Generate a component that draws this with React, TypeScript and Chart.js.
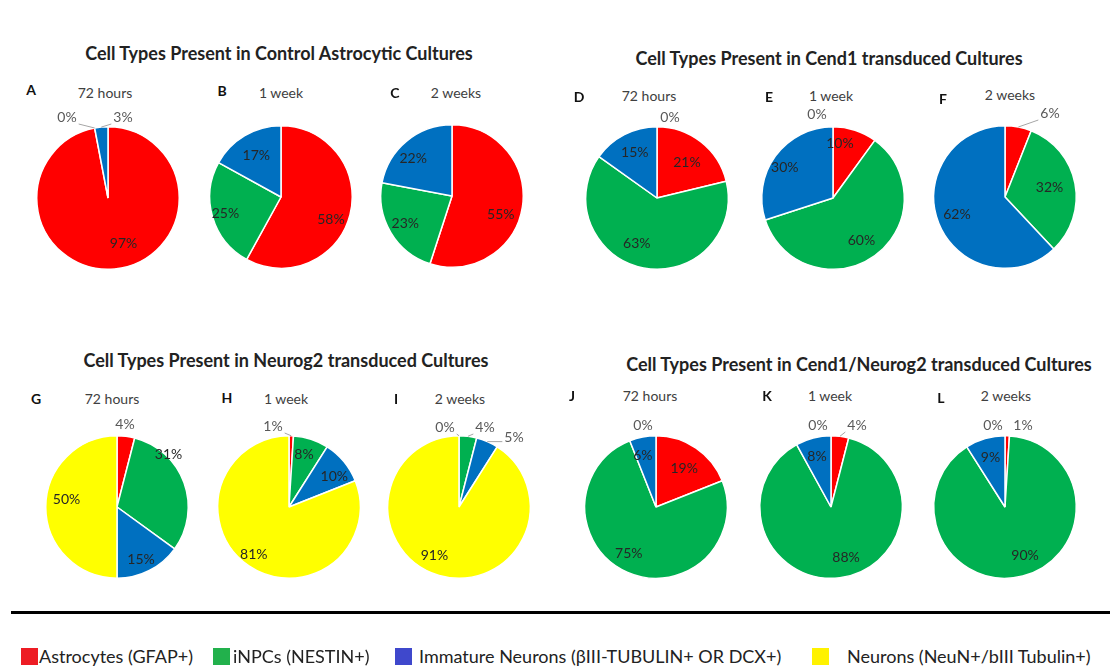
import React, { useEffect, useRef } from "react";
import { Chart, PieController, ArcElement } from "chart.js";

Chart.register(PieController, ArcElement);

// ---- data -------------------------------------------------------------
const cellTypes = [
  "Astrocytes (GFAP+)",
  "iNPCs (NESTIN+)",
  "Immature Neurons (βIII-TUBULIN+ OR DCX+)",
  "Neurons (NeuN+/bIII Tubulin+)",
];
const timepoints = ["72 hours", "1 week", "2 weeks"];
const groupTitles = [
  "Cell Types Present in Control Astrocytic Cultures",
  "Cell Types Present in Cend1 transduced Cultures",
  "Cell Types Present in Neurog2 transduced Cultures",
  "Cell Types Present in Cend1/Neurog2 transduced Cultures",
];
const panelLetters = ["A", "B", "C", "D", "E", "F", "G", "H", "I", "J", "K", "L"];

// % of cells per type: astrocytes, iNPCs, immature neurons, neurons
const controlAstrocytic = [
  [97, 0, 3],
  [58, 25, 17],
  [55, 23, 22],
];
const cend1Transduced = [
  [21, 63, 15, 0],
  [10, 60, 30, 0],
  [6, 32, 62],
];
const neurog2Transduced = [
  [4, 31, 15, 50],
  [1, 8, 10, 81],
  [0, 4, 5, 91],
];
const cend1Neurog2Transduced = [
  [19, 75, 6, 0],
  [4, 88, 8, 0],
  [1, 90, 9, 0],
];

// ---- styling / layout ---------------------------------------------------
const sliceColors = ["#FF0000", "#00B050", "#0070C0", "#FFFF00"];
const keyColors = ["#ED1C24", "#22B14C", "#3F48CC", "#FFF200"];
const FONT = "Lato, 'Open Sans', sans-serif";
const LABEL_FONT = "14px Lato";
const CANVAS = 200;

type Frame = {
  cx: number;
  cy: number;
  letter: [number, number];
  sub: [number, number];
  outside?: Record<number, [number, number, boolean]>;
  nudge?: Record<number, [number, number]>;
};

const frames: Frame[] = [
  { cx: 108, cy: 198, letter: [31, 90], sub: [105, 93], outside: { 1: [-41, -81, true], 2: [15, -81, true] }, nudge: { 0: [11, -3] } },
  { cx: 281, cy: 197, letter: [222, 91], sub: [281, 93], nudge: { 0: [3, 10], 1: [-9, 3], 2: [0, 0] } },
  { cx: 452, cy: 196, letter: [395, 93], sub: [456, 93], nudge: { 0: [1, 11], 1: [-5, 3], 2: [-8, 0] } },
  { cx: 657, cy: 198, letter: [579, 97], sub: [649, 96], outside: { 3: [13, -81, false] }, nudge: { 0: [0, 3], 1: [-11, -2], 2: [0, -2] } },
  { cx: 833, cy: 198, letter: [769, 97], sub: [831, 96], outside: { 3: [-16, -84, false] }, nudge: { 0: [-8, -8], 1: [0, 3], 2: [-9, -2] } },
  { cx: 1005, cy: 197, letter: [943, 99], sub: [1010, 95], outside: { 0: [45, -84, true] }, nudge: { 1: [-3, 0], 2: [-3, 0] } },
  { cx: 117, cy: 507, letter: [36, 399], sub: [112, 399], outside: { 0: [8, -83, false] }, nudge: { 1: [6, -36], 2: [2, 9], 3: [-2, -8] } },
  { cx: 289, cy: 507, letter: [227, 398], sub: [286, 399], outside: { 0: [-16, -81, true] }, nudge: { 1: [0, -6], 2: [8, 0], 3: [-8, 7] } },
  { cx: 459, cy: 507, letter: [396, 399], sub: [460, 399], outside: { 0: [-14, -80, true], 1: [26, -80, true], 2: [55, -70, true] }, nudge: { 3: [-11, 2] } },
  { cx: 656, cy: 507, letter: [572, 396], sub: [650, 396], outside: { 3: [-13, -82, false] }, nudge: { 0: [1, 2], 1: [-8, 2], 2: [-4, -4] } },
  { cx: 831, cy: 507, letter: [767, 396], sub: [830, 396], outside: { 0: [26, -82, true], 3: [-13, -82, false] }, nudge: { 1: [9, 2], 2: [-2, -4] } },
  { cx: 1005, cy: 507, letter: [941, 398], sub: [1006, 396], outside: { 0: [18, -82, false], 3: [-12, -82, false] }, nudge: { 1: [8, 2], 2: [-1, -3] } },
];

const titlePos: [number, number][] = [
  [279, 53],
  [829, 58],
  [286, 360],
  [859, 364],
];

const keySquareX = [21, 213, 395, 812];
const keyTextX = [39, 233, 419, 847];
const KEY_Y = 656;

const allPanels = [
  ...controlAstrocytic,
  ...cend1Transduced,
  ...neurog2Transduced,
  ...cend1Neurog2Transduced,
];

// Percent labels: inside the slice, or outside (with optional leader line)
function makeLabelPlugin(frame: Frame) {
  return {
    id: "sliceLabels",
    afterDatasetsDraw(chart: any) {
      const ctx: CanvasRenderingContext2D = chart.ctx;
      const ds = chart.data.datasets[0];
      const arcs = chart.getDatasetMeta(0).data;
      ctx.save();
      ctx.font = LABEL_FONT;
      ctx.textAlign = "center";
      ctx.textBaseline = "middle";
      arcs.forEach((el: any, i: number) => {
        const { x, y, startAngle, endAngle, outerRadius } = el.getProps(
          ["x", "y", "startAngle", "endAngle", "outerRadius"],
          true
        );
        const mid = (startAngle + endAngle) / 2;
        const text = `${ds.data[i]}%`;
        const out = frame.outside ? frame.outside[i] : undefined;
        if (out) {
          const lx = x + out[0];
          const ly = y + out[1];
          if (out[2]) {
            const ex = x + Math.cos(mid) * outerRadius;
            const ey = y + Math.sin(mid) * outerRadius;
            const hw = ctx.measureText(text).width / 2 + 2;
            const hh = 7;
            const px = Math.max(lx - hw, Math.min(ex, lx + hw));
            const py = Math.max(ly - hh, Math.min(ey, ly + hh));
            ctx.strokeStyle = "#A6A6A6";
            ctx.lineWidth = 1;
            ctx.beginPath();
            ctx.moveTo(ex, ey);
            ctx.lineTo(px, py);
            ctx.stroke();
          }
          ctx.fillStyle = "#595959";
          ctx.fillText(text, lx, ly);
        } else {
          const nd = (frame.nudge && frame.nudge[i]) || [0, 0];
          const r = outerRadius * 0.68;
          ctx.fillStyle = "#262626";
          ctx.fillText(text, x + Math.cos(mid) * r + nd[0], y + Math.sin(mid) * r + nd[1]);
        }
      });
      ctx.restore();
    },
  };
}

function PiePanel({ values, frame }: { values: number[]; frame: Frame }) {
  const ref = useRef<HTMLCanvasElement>(null);
  useEffect(() => {
    const chart = new Chart(ref.current as HTMLCanvasElement, {
      type: "pie",
      data: {
        labels: cellTypes.slice(0, values.length),
        datasets: [
          {
            data: values,
            backgroundColor: sliceColors.slice(0, values.length),
            borderColor: "#FFFFFF",
            borderWidth: 1.5,
          },
        ],
      },
      options: {
        responsive: false,
        animation: false,
        events: [],
        layout: { padding: 28 },
      },
      plugins: [makeLabelPlugin(frame)],
    } as any);
    return () => chart.destroy();
  }, [values, frame]);
  return (
    <canvas
      ref={ref}
      width={CANVAS}
      height={CANVAS}
      style={{ position: "absolute", left: frame.cx - CANVAS / 2, top: frame.cy - CANVAS / 2 }}
    />
  );
}

const centered: React.CSSProperties = {
  position: "absolute",
  transform: "translate(-50%, -50%)",
  whiteSpace: "nowrap",
  fontFamily: FONT,
  lineHeight: 1,
};

export default function App() {
  useEffect(() => {
    document.body.style.margin = "0";
  }, []);
  return (
    <div
      style={{
        position: "absolute",
        left: 0,
        top: 0,
        width: 1110,
        height: 668,
        background: "#FFFFFF",
        overflow: "hidden",
      }}
    >
      {groupTitles.map((t, i) => (
        <div
          key={t}
          style={{ ...centered, left: titlePos[i][0], top: titlePos[i][1], fontWeight: 700, fontSize: 18, color: "#222222" }}
        >
          {t}
        </div>
      ))}
      {allPanels.map((vals, i) => (
        <React.Fragment key={panelLetters[i]}>
          <div style={{ ...centered, left: frames[i].letter[0], top: frames[i].letter[1], fontWeight: 700, fontSize: 14, color: "#111111" }}>
            {panelLetters[i]}
          </div>
          <div style={{ ...centered, left: frames[i].sub[0], top: frames[i].sub[1], fontSize: 14, color: "#404040" }}>
            {timepoints[i % 3]}
          </div>
          <PiePanel values={vals} frame={frames[i]} />
        </React.Fragment>
      ))}
      <div style={{ position: "absolute", left: 11, top: 611, width: 1099, height: 3, background: "#000000" }} />
      {cellTypes.map((name, i) => (
        <React.Fragment key={name}>
          <div
            style={{ position: "absolute", left: keySquareX[i], top: KEY_Y - 8, width: 17, height: 17, background: keyColors[i] }}
          />
          <div
            style={{
              position: "absolute",
              left: keyTextX[i],
              top: KEY_Y,
              transform: "translateY(-50%)",
              whiteSpace: "nowrap",
              fontFamily: FONT,
              fontSize: 18,
              lineHeight: 1,
              color: "#222222",
            }}
          >
            {name}
          </div>
        </React.Fragment>
      ))}
    </div>
  );
}
